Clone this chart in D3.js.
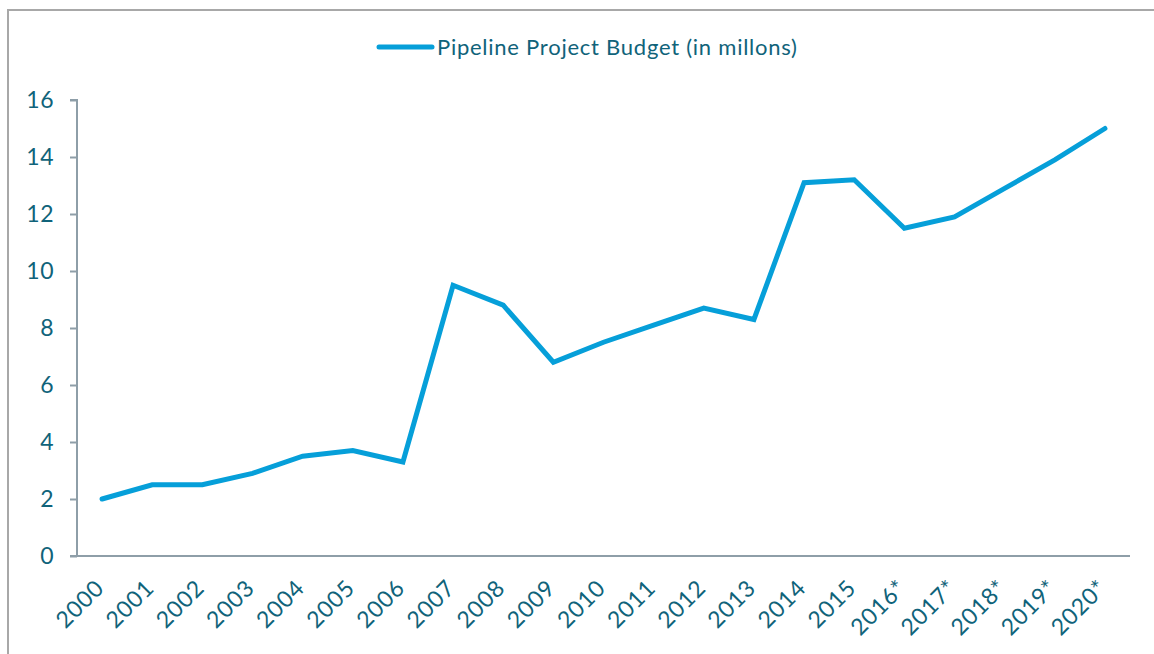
<!DOCTYPE html>
<html>
<head>
<meta charset="utf-8">
<script src="https://cdnjs.cloudflare.com/ajax/libs/d3/7.8.5/d3.min.js"></script>
<style>
  html, body { margin: 0; padding: 0; background: #fff; }
  svg { display: block; }
</style>
</head>
<body>
<svg id="chart" width="1154" height="654"></svg>
<script>
const categories = ["2000","2001","2002","2003","2004","2005","2006","2007","2008","2009","2010","2011","2012","2013","2014","2015","2016*","2017*","2018*","2019*","2020*"];
const budget = [2.0, 2.5, 2.5, 2.9, 3.5, 3.7, 3.3, 9.5, 8.8, 6.8, 7.5, 8.1, 8.7, 8.3, 13.1, 13.2, 11.5, 11.9, 12.9, 13.9, 15.0];
const yTicks = [0, 2, 4, 6, 8, 10, 12, 14, 16];
const seriesName = "Pipeline Project Budget (in millons)";

(function () {
const svg = d3.select("#chart");
const textColor = "#10637a";
const lineColor = "#069fd9";
const axisColor = "#8e9ea8";
const font = "Lato, 'Open Sans', sans-serif";

// outer frame
svg.append("rect").attr("x", 8).attr("y", 10).attr("width", 1200).attr("height", 700)
  .attr("fill", "none").attr("stroke", "#a8a8a8").attr("stroke-width", 2);

const pLeft = 77, pRight = 1130, pTop = 100, pBottom = 556;
const x = d3.scaleBand().domain(categories).range([pLeft, pRight]);
const y = d3.scaleLinear().domain([0, 16]).range([pBottom, pTop]);

// y axis
const yAxis = svg.append("g").attr("transform", `translate(${pLeft},0)`)
  .call(d3.axisLeft(y).tickValues(yTicks).tickSize(7).tickPadding(16));
yAxis.select(".domain").attr("stroke", axisColor).attr("stroke-width", 2).attr("d", `M-7,${pTop}H0V${pBottom}`);
yAxis.selectAll(".tick line").attr("stroke", axisColor).attr("stroke-width", 2);
yAxis.selectAll(".tick text").attr("fill", textColor).style("font-family", font)
  .style("font-size", "23px").style("letter-spacing", "0.5px");

// x axis
const xAxis = svg.append("g").attr("transform", `translate(0,${pBottom})`)
  .call(d3.axisBottom(x).tickSize(0).tickPadding(0));
xAxis.select(".domain").attr("stroke", axisColor).attr("stroke-width", 2).attr("d", `M${pLeft-7},0H${pRight}`);
xAxis.selectAll(".tick text")
  .attr("fill", textColor).style("font-family", font).style("font-size", "23px")
  .style("letter-spacing", "0.8px")
  .attr("text-anchor", "end")
  .attr("transform", "translate(-8,22) rotate(-45)")
  .attr("dy", "0.7em").attr("y", 0).attr("x", 0);

// line
const line = d3.line()
  .x((d, i) => x(categories[i]) + x.bandwidth() / 2)
  .y(d => y(d));
svg.append("path").datum(budget)
  .attr("d", line)
  .attr("fill", "none").attr("stroke", lineColor).attr("stroke-width", 5)
  .attr("stroke-linejoin", "miter").attr("stroke-linecap", "round");

// legend
const lg = svg.append("g").attr("transform", "translate(379,47)");
lg.append("line").attr("x1", 0).attr("x2", 53).attr("y1", 0).attr("y2", 0)
  .attr("stroke", lineColor).attr("stroke-width", 5).attr("stroke-linecap", "round");
lg.append("text").attr("x", 58).attr("y", 0).attr("dy", "0.35em")
  .attr("fill", textColor).style("font-family", font).style("font-size", "22px")
  .style("letter-spacing", "0.75px")
  .text(seriesName);
})();
</script>
</body>
</html>
